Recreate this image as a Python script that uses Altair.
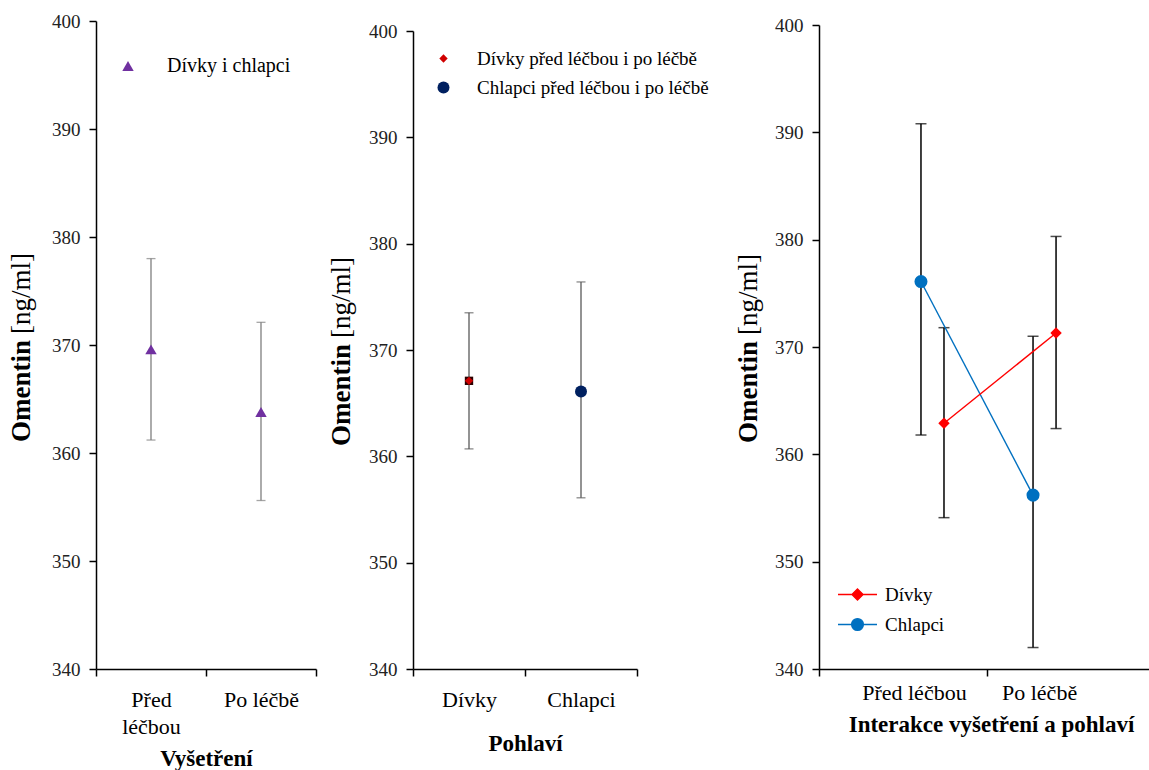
import altair as alt
import pandas as pd

FONT = "Liberation Serif"

# ---- panel 1: examination (before / after treatment), all children ----
visits = ["Před léčbou", "Po léčbě"]
visit_mean = [369.6, 363.8]
visit_low = [361.2, 355.6]
visit_high = [378.0, 372.1]
visit_series = ["Dívky i chlapci"]

# ---- panel 2: sex ----
sexes = ["Dívky", "Chlapci"]
sex_mean = [367.1, 366.1]
sex_low = [360.7, 356.1]
sex_high = [373.5, 376.4]
sex_series = ["Dívky před léčbou i po léčbě", "Chlapci před léčbou i po léčbě"]

# ---- panel 3: interaction examination x sex ----
inter_sex = ["Chlapci", "Dívky", "Chlapci", "Dívky"]
inter_visit = ["Před léčbou", "Před léčbou", "Po léčbě", "Po léčbě"]
inter_x = [0.607, 0.744, 1.274, 1.411]
inter_mean = [376.1, 362.9, 356.2, 371.3]
inter_low = [361.8, 354.1, 342.0, 362.4]
inter_high = [390.8, 371.8, 371.0, 380.3]
inter_label_x = [0.565, 1.31]
inter_series = ["Dívky", "Chlapci"]

y_ticks = [340, 350, 360, 370, 380, 390, 400]
y_title = ["Omentin", "[ng/ml]"]
x_titles = ["Vyšetření", "Pohlaví", "Interakce vyšetření a pohlaví"]

H = 648

df1 = pd.DataFrame({"cat": visits, "mean": visit_mean, "low": visit_low,
                    "high": visit_high, "series": visit_series * len(visits)})
df2 = pd.DataFrame({"cat": sexes, "mean": sex_mean, "low": sex_low,
                    "high": sex_high, "series": sex_series})
df3 = pd.DataFrame({"sex": inter_sex, "visit": inter_visit, "xpos": inter_x,
                    "mean": inter_mean, "low": inter_low, "high": inter_high})


def y_axis(offset=0):
    return alt.Axis(values=y_ticks, title=None, grid=False, domainColor="black",
                    domainWidth=1.5, tickColor="black", tickWidth=1.5, tickSize=7,
                    labelPadding=9, labelFontSize=19, labelColor="#222",
                    labelFont=FONT, offset=offset)


def y_scale(rng):
    return alt.Scale(domain=[340, 400], nice=False, zero=False, range=rng)


def y_title_layers(x_px, y_px):
    tdf = pd.DataFrame({"t": y_title})
    bold = alt.Chart(tdf).transform_filter(alt.datum.t == y_title[0]).mark_text(
        angle=270, align="right", baseline="middle", font=FONT, fontSize=27,
        fontWeight="bold", color="black").encode(
        x=alt.value(x_px), y=alt.value(y_px + 3), text="t:N")
    reg = alt.Chart(tdf).transform_filter(alt.datum.t == y_title[1]).mark_text(
        angle=270, align="left", baseline="middle", font=FONT, fontSize=27,
        fontWeight="normal", color="black").encode(
        x=alt.value(x_px), y=alt.value(y_px - 3), text="t:N")
    return [bold, reg]


def band_x(order, title, label_expr, label_pad, title_pad):
    return alt.X("cat:N", sort=order,
                 scale=alt.Scale(type="band", paddingInner=0, paddingOuter=0),
                 axis=alt.Axis(title=title, tickBand="extent", labelAngle=0,
                               labelExpr=label_expr, labelFontSize=22,
                               labelLineHeight=27, labelPadding=label_pad,
                               labelColor="black", tickSize=7, tickWidth=1.5,
                               tickColor="black", domainColor="black",
                               domainWidth=1.5, titleFontSize=23,
                               titleFontWeight="bold", titlePadding=title_pad,
                               labelFont=FONT, titleFont=FONT, titleColor="black"))


def legend(**kw):
    return alt.Legend(title=None, orient="none", labelFont=FONT, labelColor="black",
                      labelLimit=500, padding=0, **kw)


# ---------------- panel 1 ----------------
wrap_expr = "datum.value === 'Před léčbou' ? ['Před', 'léčbou'] : datum.label"
x1 = band_x(visits, x_titles[0], wrap_expr, 13, 10)
y1 = alt.Y("low:Q", scale=y_scale([H, 0]), axis=y_axis())
base1 = alt.Chart(df1)
err1 = base1.mark_rule(color="#7f7f7f", strokeWidth=1.3).encode(
    x=x1, y=y1, y2="high:Q")
cap1_lo = base1.mark_tick(orient="horizontal", size=9, thickness=1.3,
                          color="#7f7f7f").encode(x=x1, y=y1)
cap1_hi = base1.mark_tick(orient="horizontal", size=9, thickness=1.3,
                          color="#7f7f7f").encode(
    x=x1, y=alt.Y("high:Q", scale=y_scale([H, 0]), axis=y_axis()))
pts1 = base1.mark_point(filled=True, opacity=1, shape="triangle-up", size=130).encode(
    x=x1, y=alt.Y("mean:Q", scale=y_scale([H, 0]), axis=y_axis()),
    color=alt.Color("series:N", scale=alt.Scale(domain=visit_series, range=["#7030A0"]),
                    legend=legend(legendX=22, legendY=35, labelFontSize=20,
                                  symbolType="triangle-up", symbolSize=130,
                                  labelOffset=29)))
panel1 = alt.layer(err1, cap1_lo, cap1_hi, pts1, *y_title_layers(-74, 316)).properties(
    width=220, height=H)

# ---------------- panel 2 ----------------
x2 = band_x(sexes, x_titles[1], "datum.label", 13, 22)
y2_rng = [H, 10]
base2 = alt.Chart(df2)
err2 = base2.mark_rule(color="#595959", strokeWidth=1.3).encode(
    x=x2, y=alt.Y("low:Q", scale=y_scale(y2_rng), axis=y_axis()), y2="high:Q")
cap2_lo = base2.mark_tick(orient="horizontal", size=9, thickness=1.3,
                          color="#595959").encode(
    x=x2, y=alt.Y("low:Q", scale=y_scale(y2_rng), axis=y_axis()))
cap2_hi = base2.mark_tick(orient="horizontal", size=9, thickness=1.3,
                          color="#595959").encode(
    x=x2, y=alt.Y("high:Q", scale=y_scale(y2_rng), axis=y_axis()))
# dark square behind the girls' marker
sq2 = base2.transform_filter(alt.datum.cat == sexes[0]).mark_point(
    filled=True, opacity=1, shape="square", size=70, color="#2b0000").encode(
    x=x2, y=alt.Y("mean:Q", scale=y_scale(y2_rng), axis=y_axis()))
leg2 = legend(legendX=21, legendY=28, labelFontSize=19, labelOffset=24, rowPadding=9)
pts2 = base2.mark_point(filled=True, opacity=1).encode(
    x=x2, y=alt.Y("mean:Q", scale=y_scale(y2_rng), axis=y_axis()),
    color=alt.Color("series:N", scale=alt.Scale(domain=sex_series,
                                                range=["#D00000", "#002060"]), legend=leg2),
    shape=alt.Shape("series:N", scale=alt.Scale(domain=sex_series,
                                                range=["diamond", "circle"]), legend=leg2),
    size=alt.Size("series:N", scale=alt.Scale(domain=sex_series, range=[70, 144]),
                  legend=leg2))
panel2 = alt.layer(err2, cap2_lo, cap2_hi, sq2, pts2,
                   *y_title_layers(-71, 320)).properties(width=224, height=H)

# ---------------- panel 3 ----------------
SHIFT = 85
W3 = 415
unit = 168
y3_rng = [H, 4]
label_expr3 = " : ".join(
    f"datum.value === {v} ? '{t}'" for v, t in zip(inter_label_x, visits)) + " : ''"
x3 = alt.X("xpos:Q",
           scale=alt.Scale(domain=[0, (W3 - SHIFT) / unit], range=[SHIFT, W3],
                           nice=False, zero=False),
           axis=alt.Axis(values=[0, inter_label_x[0], 1, inter_label_x[1]],
                         labelExpr=label_expr3, labelOverlap=False, labelFlush=False,
                         tickOpacity={"condition": {"test": "datum.value % 1 === 0",
                                                    "value": 1}, "value": 0},
                         grid=False, labelFontSize=22, labelPadding=6,
                         labelColor="black", tickSize=7, tickWidth=1.5,
                         tickColor="black", domainColor="black", domainWidth=1.5,
                         title=x_titles[2], titleFontSize=23, titleFontWeight="bold",
                         titlePadding=10, titleX=257, labelFont=FONT,
                         titleFont=FONT, titleColor="black"))


def y3(field):
    return alt.Y(f"{field}:Q", scale=y_scale(y3_rng), axis=y_axis(offset=-SHIFT))


series_colors = ["#FF0000", "#0070C0"]
# legend symbols: a short line with the series marker on it
leg_paths = ["M-3,0L3,0M0,-0.85L0.85,0L0,0.85L-0.85,0Z",
             "M-3,0L3,0M0.9,0A0.9,0.9,0,1,1,-0.9,0A0.9,0.9,0,1,1,0.9,0Z"]
is_girls = f"datum.value === '{inter_series[0]}'"
leg3 = legend(legendX=114, legendY=564, labelFontSize=19, labelOffset=18,
              rowPadding=10, symbolSize=169, symbolStrokeWidth=1.4,
              symbolOpacity=1,
              symbolType=alt.ExprRef(
                  f"{is_girls} ? '{leg_paths[0]}' : '{leg_paths[1]}'"),
              symbolFillColor=alt.ExprRef(
                  f"{is_girls} ? '{series_colors[0]}' : '{series_colors[1]}'"))

base3 = alt.Chart(df3)
err3 = base3.mark_rule(color="black", strokeWidth=1.5).encode(
    x=x3, y=y3("low"), y2="high:Q")
cap3_lo = base3.mark_tick(orient="horizontal", size=11, thickness=1.5,
                          color="black").encode(x=x3, y=y3("low"))
cap3_hi = base3.mark_tick(orient="horizontal", size=11, thickness=1.5,
                          color="black").encode(x=x3, y=y3("high"))
lines3 = base3.mark_line(strokeWidth=1.4).encode(
    x=x3, y=y3("mean"),
    color=alt.Color("sex:N", scale=alt.Scale(domain=inter_series, range=series_colors),
                    legend=leg3))
girls3 = base3.transform_filter(alt.datum.sex == inter_series[0]).mark_point(
    filled=True, opacity=1, shape="diamond", size=130, color=series_colors[0]).encode(
    x=x3, y=y3("mean"))
boys3 = base3.transform_filter(alt.datum.sex == inter_series[1]).mark_point(
    filled=True, opacity=1, shape="circle", size=170, color=series_colors[1]).encode(
    x=x3, y=y3("mean"))

panel3 = alt.layer(err3, cap3_lo, cap3_hi, lines3, girls3, boys3,
                   *y_title_layers(SHIFT - 70, 317)).properties(width=W3, height=H)

chart = alt.hconcat(panel1, panel2, panel3, spacing=97, bounds="flush").resolve_scale(
    color="independent", shape="independent", size="independent"
).resolve_legend(
    color="independent", shape="independent", size="independent"
).properties(
    padding={"left": 8, "top": 12, "right": 0, "bottom": 0}
).configure_view(stroke=None).configure_axis(labelFont=FONT, titleFont=FONT)

chart.save("out.html", embed_options={"renderer": "svg", "actions": False})
